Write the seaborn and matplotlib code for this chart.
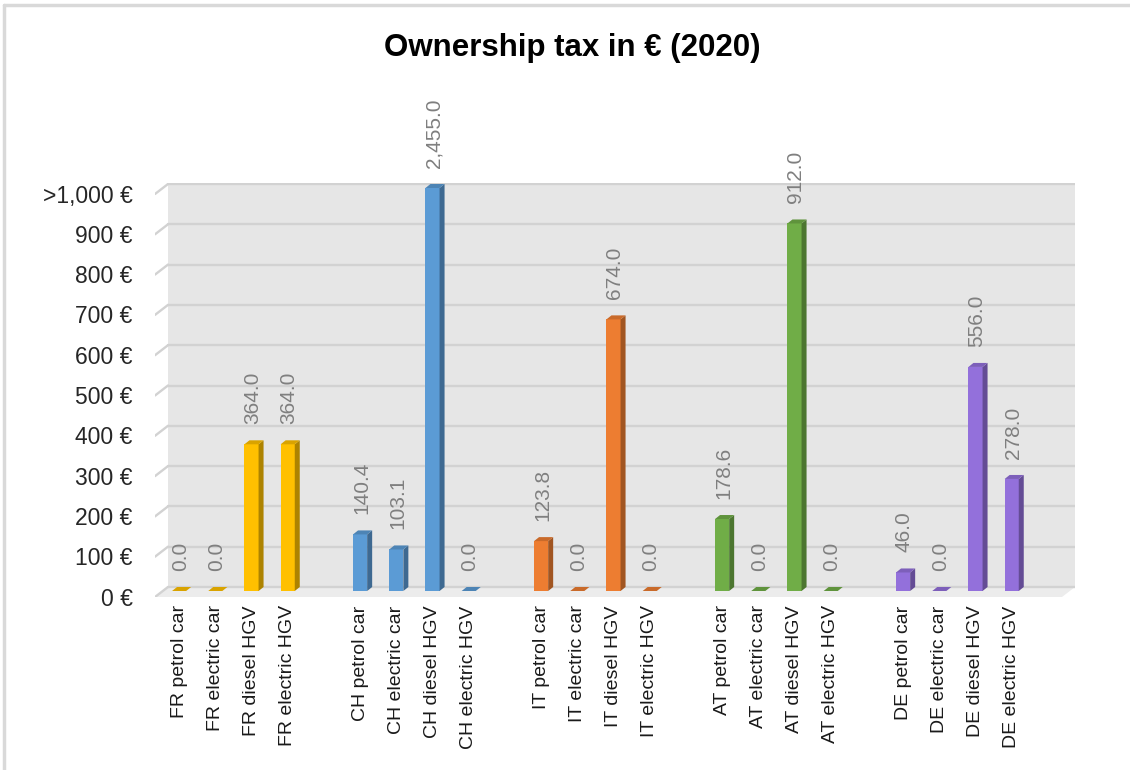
import numpy as np
import pandas as pd
import matplotlib
matplotlib.use("Agg")
import matplotlib.pyplot as plt
from matplotlib.patches import Polygon
from matplotlib.lines import Line2D
from matplotlib.transforms import ScaledTranslation
import seaborn as sns

# ---- data -------------------------------------------------------------
countries = ["FR", "CH", "IT", "AT", "DE"]
vehicles = ["petrol car", "electric car", "diesel HGV", "electric HGV"]
tax_fr = [0.0, 0.0, 364.0, 364.0]
tax_ch = [140.4, 103.1, 2455.0, 0.0]
tax_it = [123.8, 0.0, 674.0, 0.0]
tax_at = [178.6, 0.0, 912.0, 0.0]
tax_de = [46.0, 0.0, 556.0, 278.0]
y_ticks = [0, 100, 200, 300, 400, 500, 600, 700, 800, 900, 1000]
y_tick_labels = ["0 €", "100 €", "200 €", "300 €", "400 €", "500 €",
                 "600 €", "700 €", "800 €", "900 €", ">1,000 €"]
axis_cap = 1000
title = "Ownership tax in € (2020)"

colors = {"FR": "#FFC000", "CH": "#5B9BD5", "IT": "#ED7D31",
          "AT": "#70AD47", "DE": "#9370DB"}

series = [tax_fr, tax_ch, tax_it, tax_at, tax_de]
rows = []
for gi, (c, vals) in enumerate(zip(countries, series)):
    for vi, (veh, v) in enumerate(zip(vehicles, vals)):
        rows.append({"label": f"{c} {veh}", "country": c, "value": v,
                     "shown": min(v, axis_cap), "pos": gi * 5 + vi})
df = pd.DataFrame(rows)

# ---- figure -----------------------------------------------------------
sns.set_style("white")
plt.rcParams["font.family"] = ["Liberation Sans", "DejaVu Sans"]

W, H, DPI = 1130, 770, 100
fig = plt.figure(figsize=(W / DPI, H / DPI), dpi=DPI)
fig.patch.set_facecolor("white")

# axes spans the front edge of the floor up to the top of the back wall
ax_l, ax_r, ax_t, ax_b = 155, 1075, 183, 597
ax = fig.add_axes([ax_l / W, 1 - ax_b / H, (ax_r - ax_l) / W, (ax_b - ax_t) / H])
ax.set_facecolor("none")
for s in ax.spines.values():
    s.set_visible(False)

x_unit_px, x0_px = 36.2, 179.1
y_unit_px, y0_px = 0.403, 591.0
ax.set_xlim((ax_l - x0_px) / x_unit_px, (ax_r - x0_px) / x_unit_px)
ax.set_ylim((y0_px - ax_b) / y_unit_px, (y0_px - ax_t) / y_unit_px)

# pixel offsets expressed in data units
px_x = 1.0 / x_unit_px
px_y = 1.0 / y_unit_px
depth_x, depth_y = 5 * px_x, 4 * px_y          # bar depth
wall_dx = 13 * px_x                             # floor depth
xmin, xmax = ax.get_xlim()

# back wall
wall_left = xmin + wall_dx
wall_bottom = 0 + 4 * px_y
ax.add_patch(Polygon([(wall_left, wall_bottom), (xmax, wall_bottom),
                      (xmax, axis_cap + 4 * px_y), (wall_left, axis_cap + 4 * px_y)],
                     closed=True, facecolor="#E6E6E6", edgecolor="none", zorder=-3))
# floor
front_y = 0 - 6 * px_y
ax.add_patch(Polygon([(xmin, front_y), (xmax - wall_dx, front_y),
                      (xmax, wall_bottom), (wall_left, wall_bottom)],
                     closed=True, facecolor="#ECECEC", edgecolor="none", zorder=-3))
# gridlines on the wall plus the slanted side-wall segments
for v in y_ticks:
    yb = v + 4 * px_y
    ax.add_line(Line2D([wall_left, xmax], [yb, yb], color="#D2D2D2", lw=1.7, zorder=-2))
    ax.add_line(Line2D([xmin, wall_left], [v - 6 * px_y, yb], color="#D2D2D2",
                       lw=1.7, zorder=-2))

# ---- bars -------------------------------------------------------------
sns.barplot(data=df, x="pos", y="shown", hue="country", palette=colors,
            hue_order=countries, native_scale=True, dodge=False, width=0.39,
            saturation=1, errorbar=None, legend=False, linewidth=0, ax=ax)

def shade(rgba, f):
    r, g, b, a = rgba
    return (r * f, g * f, b * f, a)

for p in list(ax.patches):
    if not hasattr(p, "get_width"):
        continue
    x0, w, h = p.get_x(), p.get_width(), p.get_height()
    fc = p.get_facecolor()
    x1 = x0 + w
    p.set_zorder(2)
    ax.add_patch(Polygon([(x1, 0), (x1 + depth_x, depth_y), (x1 + depth_x, h + depth_y), (x1, h)],
                         closed=True, facecolor=shade(fc, 0.68), edgecolor="none", zorder=2))
    ax.add_patch(Polygon([(x0, h), (x1, h), (x1 + depth_x, h + depth_y), (x0 + depth_x, h + depth_y)],
                         closed=True, facecolor=shade(fc, 0.85), edgecolor="none", zorder=2))

# value labels
for _, r in df.iterrows():
    ax.annotate(f"{r['value']:,.1f}", (r["pos"], r["shown"]), xytext=(1, 14.5),
                textcoords="offset points", rotation=90, ha="center", va="bottom",
                fontsize=15, color="#7F7F7F", zorder=3)

# ---- axes text ---------------------------------------------------------
ax.set_xticks(df["pos"])
ax.set_xticklabels(df["label"], rotation=90, fontsize=14, color="#1A1A1A")
ax.tick_params(axis="x", length=0, pad=6)
ax.set_yticks(y_ticks)
ax.set_yticklabels(y_tick_labels, fontsize=16.5, color="#262626")
ax.tick_params(axis="y", length=0, pad=16)
for lbl in ax.get_yticklabels():
    lbl.set_transform(lbl.get_transform() + ScaledTranslation(0, -4 / 72, fig.dpi_scale_trans))
ax.set_xlabel("")
ax.set_ylabel("")
ax.grid(False)

fig.text(572 / W, 1 - 48 / H, title, ha="center", va="center",
         fontsize=22.5, fontweight="bold", color="black")

# chart frame
fig.add_artist(Line2D([4 / W, 1], [1 - 5 / H, 1 - 5 / H], color="#D9D9D9", lw=2.5))
fig.add_artist(Line2D([4 / W, 4 / W], [0, 1 - 5 / H], color="#D9D9D9", lw=2.5))

fig.savefig("out.png", dpi=DPI, facecolor="white")
